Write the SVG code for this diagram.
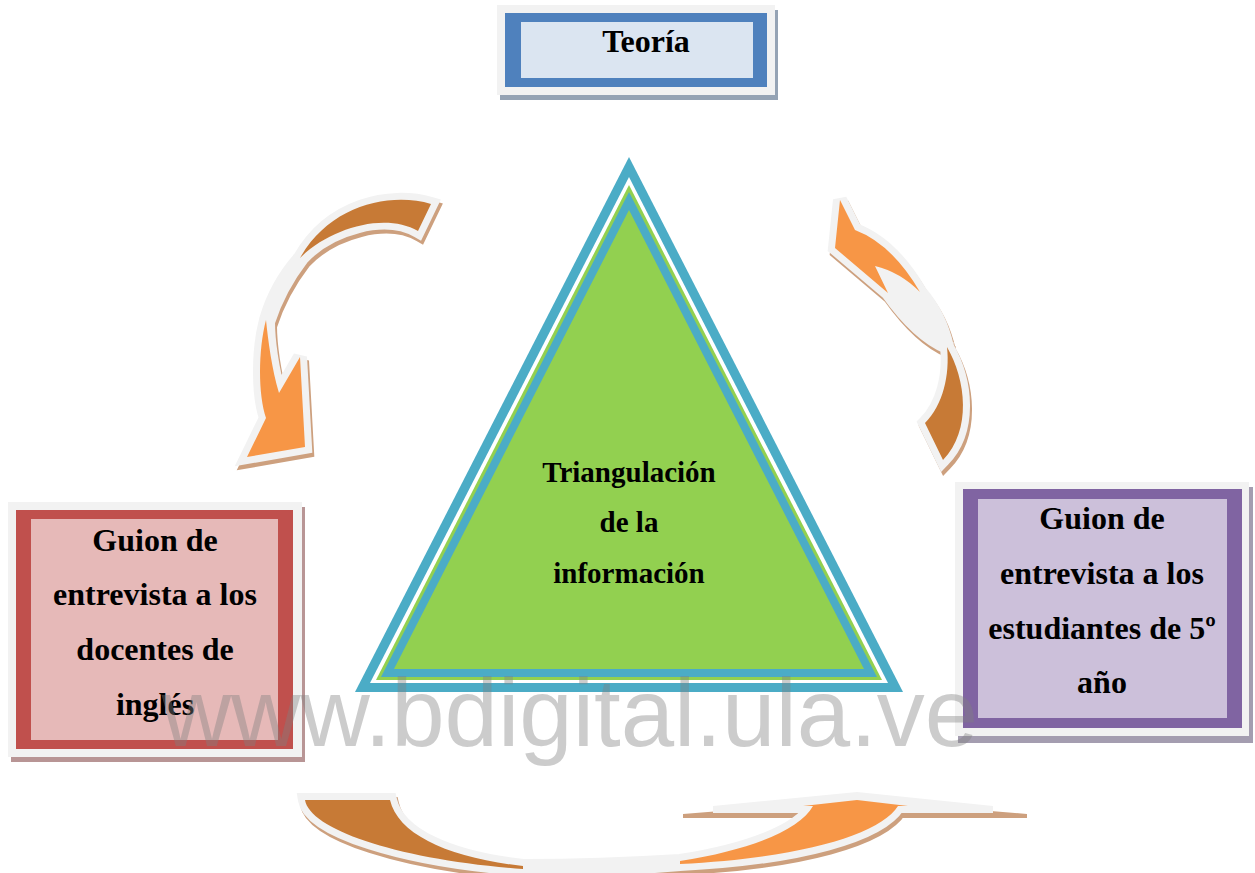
<svg xmlns="http://www.w3.org/2000/svg" width="1255" height="873" viewBox="0 0 1255 873">
<style>
.lbl{font-family:"Liberation Serif","Times New Roman",serif;font-weight:bold;fill:#000;text-anchor:middle}
.frame{fill:#f2f2f2}
.outline{fill:#f2f2f2;stroke:#f2f2f2;stroke-width:14;stroke-linejoin:miter;stroke-miterlimit:3}
.ashadow{fill:#cda07e;stroke:#cda07e;stroke-width:14;stroke-linejoin:miter;stroke-miterlimit:3}
.dark{fill:#c77a36}
.light{fill:#f79646}
.wm{font-family:"Liberation Sans",Arial,sans-serif;font-size:96px;fill:#808080;fill-opacity:0.4;text-anchor:middle}
</style>
<rect width="1255" height="873" fill="#ffffff"/>

<g id="connectors">
  <g id="arrow-left">
    <path class="ashadow" transform="translate(2,4)" d="M431,204 C390,192 330,205 300,258 Q276,285 266,320 C258,350 258,395 266,418 L247,457 L305,447 L300,357 L279,393 C272,370 268,340 268,322 Q279,288 302,258 C330,228 385,212 418,231 Z"/>
    <path class="outline" d="M431,204 C390,192 330,205 300,258 Q276,285 266,320 C258,350 258,395 266,418 L247,457 L305,447 L300,357 L279,393 C272,370 268,340 268,322 Q279,288 302,258 C330,228 385,212 418,231 Z"/>
    <path class="dark" d="M431,204 C390,192 330,205 300,258 C330,228 385,212 418,231 Z"/>
    <path class="light" d="M266,320 C258,350 258,395 266,418 L247,457 L305,447 L300,357 L279,393 C272,370 268,340 266,320 Z"/>
  </g>
  <g id="arrow-right">
    <path class="ashadow" transform="translate(2,4)" d="M840,200 L855,230 Q892,244 920,292 Q940,315 947,347 C966,380 972,430 943,460 L925,423 C943,405 950,375 947,347 Q918,335 888,293 L835,248 Z"/>
    <path class="outline" d="M840,200 L855,230 Q892,244 920,292 Q940,315 947,347 C966,380 972,430 943,460 L925,423 C943,405 950,375 947,347 Q918,335 888,293 L835,248 Z"/>
    <path class="light" d="M840,200 L855,230 Q892,244 920,292 Q900,272 875,266 L888,293 L835,248 Z"/>
    <path class="dark" d="M947,347 C966,380 972,430 943,460 L925,423 C943,405 950,375 947,347 Z"/>
  </g>
  <g id="arrow-bottom">
    <path class="ashadow" transform="translate(2,4)" d="M305,800 L390,800 C398,835 450,858 523,866 Q600,866 680,861 C750,850 800,830 813,806 L898,806 C880,835 800,858 680,864 Q600,871 523,869 C400,860 310,830 305,800 Z"/>
    <polygon fill="#cda07e" points="683,814 857,800 1027,814 1027,818 683,818"/>
    <path class="outline" d="M305,800 L390,800 C398,835 450,858 523,866 Q600,866 680,861 C750,850 800,830 813,806 L898,806 C880,835 800,858 680,864 Q600,871 523,869 C400,860 310,830 305,800 Z"/>
    <polygon fill="#f2f2f2" points="713,806 857,792 993,806 993,813 713,813"/>
    <path class="dark" d="M305,800 L390,800 C398,835 450,858 523,866 L523,869 C400,860 310,830 305,800 Z"/>
    <path class="light" d="M680,861 C750,850 800,830 813,806 L803,806 L857,800 L908,806 L898,806 C880,835 800,858 680,864 Z"/>
  </g>
</g>

<g id="node-teoria">
  <rect x="500" y="10" width="278" height="90" fill="#95a3b4"/>
  <rect class="frame" x="497" y="5" width="278" height="90"/>
  <rect x="505" y="13" width="262" height="74" fill="#4f81bd"/>
  <rect x="521" y="22" width="232" height="56" fill="#dbe5f1"/>
  <text class="lbl" x="646" y="52" font-size="32">Teoría</text>
</g>

<g id="node-triangle">
  <polygon fill="#4bacc6" points="629,157 355,692 903,692"/>
  <polygon fill="#ffffff" points="629,177 370,683 888,683"/>
  <polygon fill="#92d050" points="629,185 376,680 882,680"/>
  <polygon fill="#4bacc6" points="629,192 381,677 877,677"/>
  <polygon fill="#92d050" points="629,210 394,669 864,669"/>
  <text class="lbl" x="629" y="482" font-size="29">Triangulación</text>
  <text class="lbl" x="629" y="532" font-size="29">de la</text>
  <text class="lbl" x="629" y="583" font-size="29">información</text>
</g>

<g id="node-docentes">
  <rect x="11" y="507" width="294" height="255" fill="#b89595"/>
  <rect class="frame" x="8" y="502" width="294" height="255"/>
  <rect x="16" y="510" width="277" height="239" fill="#c0504d"/>
  <rect x="31" y="519" width="247" height="221" fill="#e6b9b8"/>
  <text class="lbl" x="155" y="551" font-size="32">Guion de</text>
  <text class="lbl" x="155" y="605" font-size="32">entrevista a los</text>
  <text class="lbl" x="155" y="660" font-size="32">docentes de</text>
  <text class="lbl" x="155" y="715" font-size="32">inglés</text>
</g>

<g id="node-estudiantes">
  <rect x="958" y="487" width="295" height="256" fill="#a49db0"/>
  <rect class="frame" x="955" y="482" width="294" height="254"/>
  <rect x="963" y="489" width="279" height="239" fill="#8064a2"/>
  <rect x="978" y="499" width="249" height="219" fill="#ccc0da"/>
  <text class="lbl" x="1102" y="529" font-size="32">Guion de</text>
  <text class="lbl" x="1102" y="584" font-size="32">entrevista a los</text>
  <text class="lbl" x="1102" y="639" font-size="32">estudiantes de 5º</text>
  <text class="lbl" x="1102" y="693" font-size="32">año</text>
</g>

<text class="wm" x="570" y="746">www.bdigital.ula.ve</text>
</svg>
